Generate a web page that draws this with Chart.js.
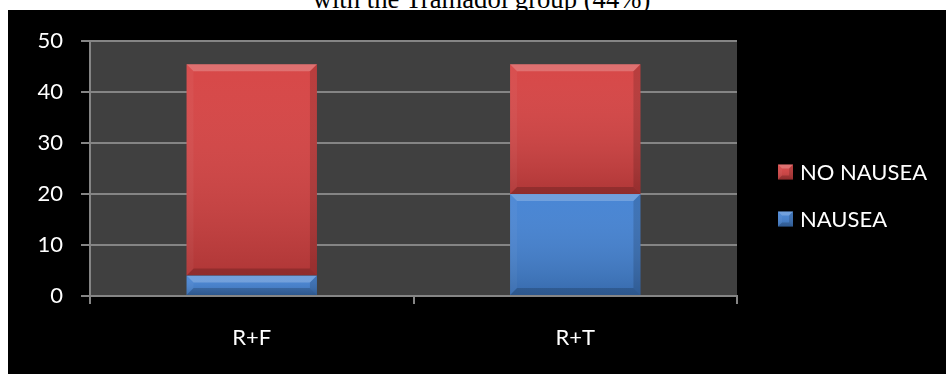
<!DOCTYPE html>
<html>
<head>
<meta charset="utf-8">
<script src="https://cdn.jsdelivr.net/npm/chart.js@4.4.1/dist/chart.umd.min.js"></script>
<style>
  html, body { margin: 0; padding: 0; background: #fff; width: 946px; height: 374px; overflow: hidden; }
  #caption {
    position: absolute; left: 0; top: -16px; width: 963px; text-align: center;
    font-family: "Liberation Serif", "Times New Roman", serif; font-size: 26.67px; line-height: 30px; color: #000;
    white-space: nowrap;
  }
  #wrap { position: absolute; left: 8px; top: 10px; width: 938px; height: 364px; background: #000; }
  canvas { display: block; }
</style>
</head>
<body>
<div id="caption">with the Tramadol group (44%)</div>
<div id="wrap"><canvas id="chart" width="938" height="364"></canvas></div>
<script>
// Patients per group with and without nausea
const groups = ["R+F", "R+T"];
const nausea = [4, 20];
const noNausea = [41.5, 25.5];
const yTicks = [0, 10, 20, 30, 40, 50];

const seriesColors = { nausea: "#4382d3", noNausea: "#d64242" };
const axisGray = "#858585";
const fontFamily = "Lato, 'Noto Sans', sans-serif";

// Dark panel behind the plot
const plotBackground = {
  id: "plotBackground",
  beforeDraw(chart) {
    const { ctx, chartArea: a } = chart;
    ctx.save();
    ctx.fillStyle = "#404040";
    ctx.fillRect(a.left, a.top, a.right - a.left, a.bottom - a.top);
    ctx.restore();
  }
};

// Beveled, softly shaded look for a rectangle
function bevel(ctx, l, t, r, b, size) {
  const g = ctx.createLinearGradient(0, t, 0, b);
  g.addColorStop(0, "rgba(255,255,255,0.03)");
  g.addColorStop(1, "rgba(0,0,0,0.18)");
  ctx.fillStyle = g;
  ctx.fillRect(l, t, r - l, b - t);
  const s = Math.min(size, (b - t) / 2, (r - l) / 2);
  const poly = (pts, style) => {
    ctx.beginPath();
    ctx.moveTo(pts[0][0], pts[0][1]);
    for (let i = 1; i < pts.length; i++) ctx.lineTo(pts[i][0], pts[i][1]);
    ctx.closePath();
    ctx.fillStyle = style;
    ctx.fill();
  };
  poly([[l, t], [r, t], [r - s, t + s], [l + s, t + s]], "rgba(255,255,255,0.22)");
  poly([[l, b], [r, b], [r - s, b - s], [l + s, b - s]], "rgba(0,0,0,0.18)");
  poly([[l, t], [l + s, t + s], [l + s, b - s], [l, b]], "rgba(255,255,255,0.04)");
  poly([[r, t], [r - s, t + s], [r - s, b - s], [r, b]], "rgba(0,0,0,0.14)");
}

const barShading = {
  id: "barShading",
  afterDatasetsDraw(chart) {
    const ctx = chart.ctx;
    ctx.save();
    chart.data.datasets.forEach((ds, i) => {
      chart.getDatasetMeta(i).data.forEach(el => {
        const p = el.getProps(["x", "y", "base", "width"], true);
        const l = p.x - p.width / 2, r = p.x + p.width / 2;
        const t = Math.min(p.y, p.base), b = Math.max(p.y, p.base);
        bevel(ctx, l, t, r, b, 7);
      });
    });
    ctx.restore();
  }
};

// Legend to the right of the plot, top series first
const sideLegend = {
  id: "sideLegend",
  afterDraw(chart) {
    const ctx = chart.ctx;
    const a = chart.chartArea;
    const items = chart.data.datasets.map(d => ({ text: d.label, color: d.backgroundColor })).reverse();
    const x = a.right + 41, box = 15, gap = 47;
    const y0 = 162;
    ctx.save();
    ctx.font = "22px " + fontFamily;
    ctx.textBaseline = "middle";
    items.forEach((it, i) => {
      const cy = y0 + i * gap;
      ctx.fillStyle = it.color;
      ctx.fillRect(x, cy - box / 2, box, box);
      bevel(ctx, x, cy - box / 2, x + box, cy + box / 2, 4);
      ctx.fillStyle = "#ffffff";
      ctx.fillText(it.text, x + box + 7, cy + 1);
    });
    ctx.restore();
  }
};

new Chart(document.getElementById("chart"), {
  type: "bar",
  data: {
    labels: groups,
    datasets: [
      { label: "NAUSEA", data: nausea, backgroundColor: seriesColors.nausea, borderWidth: 0 },
      { label: "NO NAUSEA", data: noNausea, backgroundColor: seriesColors.noNausea, borderWidth: 0 }
    ]
  },
  options: {
    responsive: false,
    animation: false,
    devicePixelRatio: 1,
    layout: { padding: { left: 0, right: 209, top: 30, bottom: 0 } },
    datasets: { bar: { categoryPercentage: 1, barPercentage: 0.403 } },
    plugins: { legend: { display: false }, tooltip: { enabled: false }, title: { display: false } },
    scales: {
      x: {
        stacked: true,
        grid: { drawOnChartArea: false, color: axisGray, lineWidth: 2, tickLength: 8, offset: true },
        border: { color: axisGray, width: 2 },
        ticks: { color: "#ffffff", font: { family: fontFamily, size: 22 }, padding: 21 },
        afterFit(s) { s.height = 78; }
      },
      y: {
        stacked: true,
        min: 0,
        max: 50,
        afterBuildTicks(s) { s.ticks = yTicks.map(v => ({ value: v })); },
        grid: { color: axisGray, lineWidth: 2, tickLength: 9 },
        border: { color: axisGray, width: 2 },
        ticks: { color: "#ffffff", font: { family: fontFamily, size: 22 }, padding: 18 },
        afterFit(s) { s.width = 82; }
      }
    }
  },
  plugins: [plotBackground, barShading, sideLegend]
});
</script>
</body>
</html>
